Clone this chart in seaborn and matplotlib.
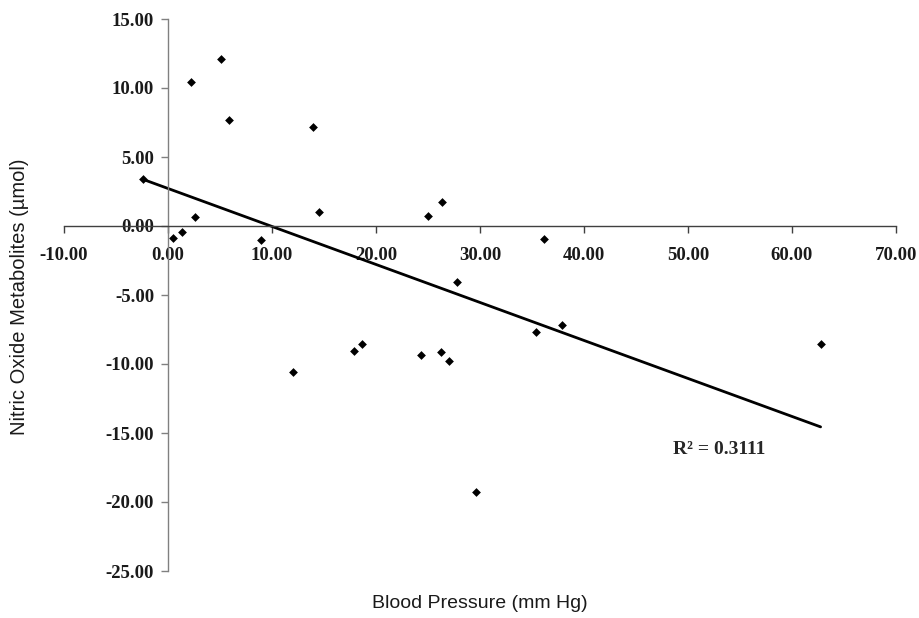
import matplotlib
matplotlib.use("Agg")
import matplotlib.pyplot as plt
import pandas as pd
import numpy as np
import seaborn as sns

# Data
blood_pressure = [-2.4, 0.48, 1.38, 2.18, 2.6, 5.1, 5.9, 8.9, 12.05, 13.9, 14.55, 17.9,
                  18.7, 24.36, 25.0, 26.25, 26.3, 27.05, 27.8, 29.6, 35.4, 36.15, 37.85, 62.75]
nitric_oxide = [3.42, -0.87, -0.41, 10.47, 0.65, 12.12, 7.69, -1.02, -10.55, 7.2, 1.02, -9.09,
                -8.53, -9.36, 0.73, -9.11, 1.77, -9.77, -4.07, -19.3, -7.68, -0.95, -7.15, -8.53]
x_ticks = [-10, 0, 10, 20, 30, 40, 50, 60, 70]
y_ticks = [-25, -20, -15, -10, -5, 0, 5, 10, 15]
r2_text = "R² = 0.3111"

df = pd.DataFrame({"bp": blood_pressure, "no": nitric_oxide})

sns.set_style("white")
plt.rcParams['font.family'] = ['Liberation Serif', 'DejaVu Serif']

fig = plt.figure(figsize=(9.19, 6.18), dpi=100)
ax = fig.add_axes([64 / 919, 1 - 571 / 618, (896 - 64) / 919, (571 - 19) / 618])

sns.regplot(x="bp", y="no", data=df, ci=None, ax=ax, marker="D",
            scatter_kws={"s": 20, "color": "black", "linewidths": 0, "alpha": 1},
            line_kws={"color": "black", "linewidth": 2.0})

# spines first: set_position resets the tick labels
for s in ["top", "right"]:
    ax.spines[s].set_visible(False)
ax.spines["left"].set_position(("data", 0))
ax.spines["bottom"].set_position(("data", 0))
ax.spines["left"].set_color("#808080")
ax.spines["bottom"].set_color("#404040")
ax.spines["left"].set_linewidth(1.0)
ax.spines["bottom"].set_linewidth(1.0)

ax.set_xlim(-10, 70)
ax.set_ylim(-25, 15)
ax.set_xticks(x_ticks)
ax.set_yticks(y_ticks)
ax.set_xticklabels([f"{v:.2f}" for v in x_ticks], fontweight="bold", fontsize=13.5, color="#1a1a1a")
ax.set_yticklabels([f"{v:.2f}" for v in y_ticks], fontweight="bold", fontsize=13.5, color="#1a1a1a")
ax.tick_params(axis="x", direction="out", length=5, width=1, color="#404040", pad=10, bottom=True)
ax.tick_params(axis="y", direction="out", length=5, width=1, color="#808080", pad=5, left=True)

ax.set_xlabel("")
ax.set_ylabel("")

fig.text(480 / 919, 1 - 603 / 618, "Blood Pressure (mm Hg)", ha="center", va="center",
         fontsize=14, color="#1a1a1a", family=["Liberation Sans", "DejaVu Sans"])
fig.text(20 / 919, 1 - 297 / 618, "Nitric Oxide Metabolites (µmol)", ha="center", va="center",
         rotation=90, fontsize=14.5, color="#1a1a1a", family=["Liberation Sans", "DejaVu Sans"])

ax.text(48.6, -16.2, r2_text, ha="left", va="center", fontweight="bold", fontsize=14)

fig.savefig("out.png", dpi=100)
